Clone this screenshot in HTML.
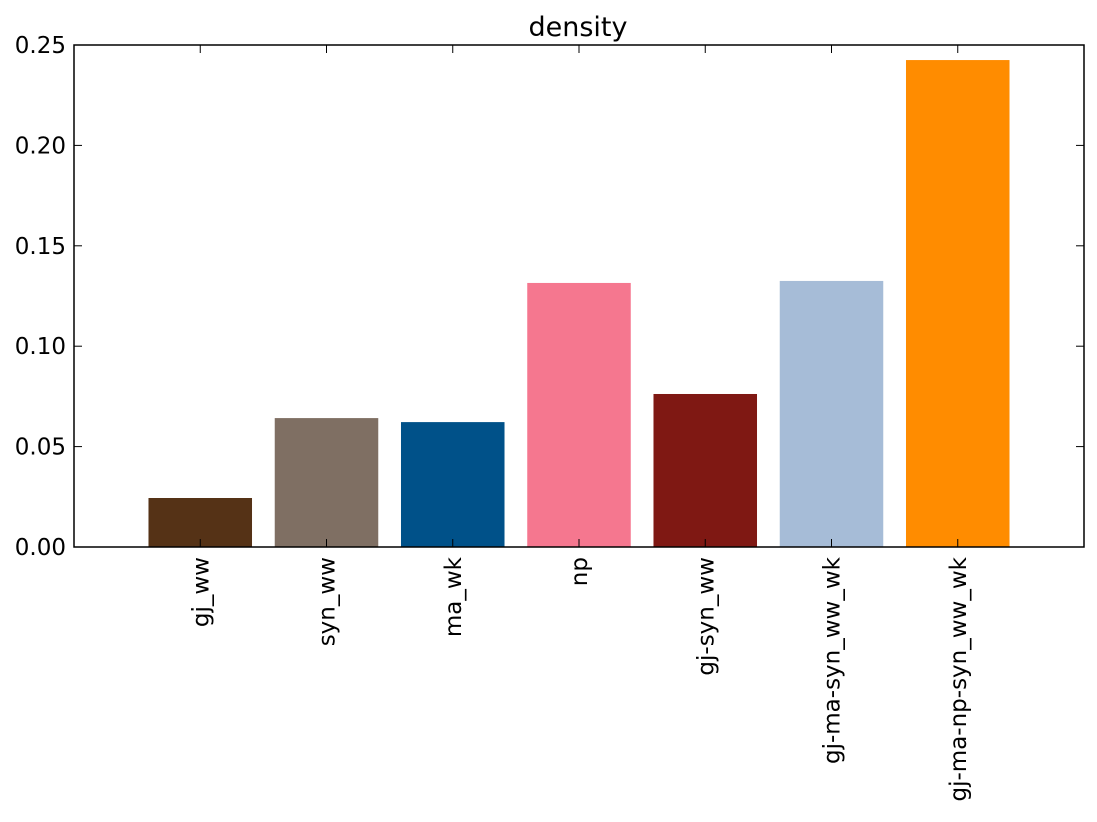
<!DOCTYPE html>
<html><head><meta charset="utf-8">
<style>
html,body{margin:0;padding:0;background:#fff;}
svg text{font-family:"DejaVu Sans","Liberation Sans",sans-serif;fill:#000;}
</style></head>
<body>
<svg id="chart" width="1097" height="817" xmlns="http://www.w3.org/2000/svg">
<rect width="1097" height="817" fill="#fff"/>
<text x="578" y="36" font-size="27" text-anchor="middle">density</text>
<g id="bars"></g>
<g id="axes"></g>
<rect x="74" y="45" width="1010" height="502" fill="none" stroke="#000" stroke-width="1.5"/>
</svg>
<script>
const categories = ["gj_ww","syn_ww","ma_wk","np","gj-syn_ww","gj-ma-syn_ww_wk","gj-ma-np-syn_ww_wk"];
const values = [0.0244, 0.0642, 0.0622, 0.1315, 0.0762, 0.1325, 0.2425];
const colors = ["#553216","#7f6f63","#005189","#f5778f","#7f1813","#a6bcd7","#ff8c00"];
const yTicks = [0, 0.05, 0.10, 0.15, 0.20, 0.25];
const yTickLabels = ["0.00","0.05","0.10","0.15","0.20","0.25"];

const L=74,R=1084,T=45,B=547;
const xMin=-1,xMax=7,yMin=0,yMax=0.25;
const xs=v=>L+(v-xMin)/(xMax-xMin)*(R-L);
const ys=v=>B-(v-yMin)/(yMax-yMin)*(B-T);
const NS="http://www.w3.org/2000/svg";
const bars=document.getElementById('bars');
const axes=document.getElementById('axes');
function mk(tag,attrs){const e=document.createElementNS(NS,tag);for(const k in attrs)e.setAttribute(k,attrs[k]);return e;}

values.forEach((v,i)=>{
  const x0=xs(i-0.41),x1=xs(i+0.41);
  const r=mk('rect',{x:x0,y:ys(v),width:x1-x0,height:ys(0)-ys(v),fill:colors[i]});
  
  
  bars.appendChild(r);
  const cx=xs(i);
  const t1=mk('line',{x1:cx,x2:cx,y1:B,y2:B-8,stroke:'#000','stroke-width':1});
  
  
  axes.appendChild(t1);
  const t2=mk('line',{x1:cx,x2:cx,y1:T,y2:T+8,stroke:'#000','stroke-width':1});
  
  
  axes.appendChild(t2);
  const lb=mk('text',{x:0,y:0,'font-size':23,'text-anchor':'end',transform:`translate(${cx+8},${B+10}) rotate(-90)`});
  lb.textContent=categories[i];
  
  
  axes.appendChild(lb);
});
yTicks.forEach((v,i)=>{
  const y=ys(v);
  const a=mk('line',{x1:L,x2:L+8,y1:y,y2:y,stroke:'#000','stroke-width':1});
  
  
  axes.appendChild(a);
  const b=mk('line',{x1:R,x2:R-8,y1:y,y2:y,stroke:'#000','stroke-width':1});
  
  
  axes.appendChild(b);
  const t=mk('text',{x:L-8,y:y+8,'font-size':23,'text-anchor':'end'});
  t.textContent=yTickLabels[i];
  
  
  axes.appendChild(t);
});
</script>
</body></html>
